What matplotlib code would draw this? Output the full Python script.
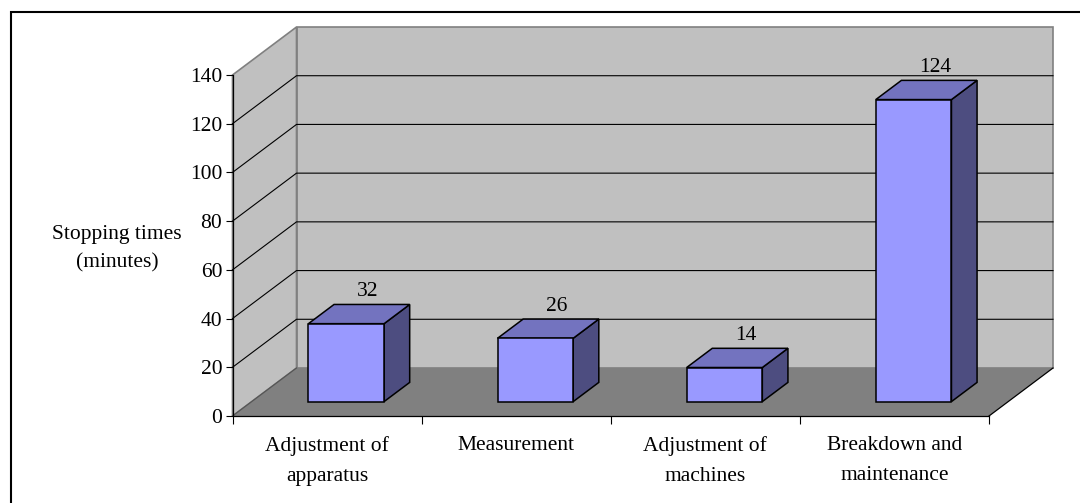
import matplotlib.pyplot as plt
from matplotlib.patches import Polygon, Rectangle

plt.rcParams['font.family'] = ['Liberation Serif', 'DejaVu Serif']

categories = ['Adjustment of\napparatus', 'Measurement', 'Adjustment of\nmachines',
              'Breakdown and\nmaintenance']
stop_minutes = [32, 26, 14, 124]
y_ticks = [0, 20, 40, 60, 80, 100, 120, 140]

# colours of the 3D column chart
wall_col = '#c0c0c0'
floor_col = '#808080'
edge_gray = '#808080'
front_col = '#9999ff'
top_col = '#7373bf'
side_col = '#4d4d80'

fig = plt.figure(figsize=(10.8, 5.03), dpi=100)
ax = fig.add_axes([232.5 / 1080, 87 / 503, 756.5 / 1080, 341 / 503])
ax.set_xlim(-0.5, 3.5)
ax.set_ylim(0, 140)
ax.patch.set_visible(False)

# oblique depth of the plot box, in data units
px_x = 756.5 / 4      # pixels per category
px_y = 341 / 140      # pixels per minute
DX = 64 / px_x
DY = 48 / px_y


def proj(x, y, d):
    return (x + d * DX, y + d * DY)


x0, x1 = -0.5, 3.5
ytop = y_ticks[-1]

# back wall, side wall and floor
ax.add_patch(Polygon([proj(x0, 0, 1), proj(x1, 0, 1), proj(x1, ytop, 1), proj(x0, ytop, 1)],
                     fc=wall_col, ec=edge_gray, lw=1.2, clip_on=False, zorder=0))
ax.add_patch(Polygon([proj(x0, 0, 0), proj(x0, 0, 1), proj(x0, ytop, 1), proj(x0, ytop, 0)],
                     fc=wall_col, ec=edge_gray, lw=1.2, clip_on=False, zorder=0))
ax.add_patch(Polygon([proj(x0, 0, 0), proj(x1, 0, 0), proj(x1, 0, 1), proj(x0, 0, 1)],
                     fc=floor_col, ec='none', clip_on=False, zorder=0.5))
p, q = proj(x1, 0, 0), proj(x1, 0, 1)
ax.plot([p[0], q[0]], [p[1], q[1]], color='black', lw=0.9, clip_on=False, zorder=1)
p, q = proj(x0, 0, 0), proj(x0, 0, 1)
ax.plot([p[0], q[0]], [p[1], q[1]], color='#555555', lw=0.9, clip_on=False, zorder=1)

# gridlines across side wall and back wall
for v in y_ticks[1:-1]:
    a, b, c = proj(x0, v, 0), proj(x0, v, 1), proj(x1, v, 1)
    ax.plot([a[0], b[0], c[0]], [a[1], b[1], c[1]], color='black', lw=0.8,
            clip_on=False, zorder=1)

# columns
w = 0.2
d0, d1 = 0.3, 0.7
for i, v in enumerate(stop_minutes):
    fl, fr = i - w, i + w
    front = [proj(fl, 0, d0), proj(fr, 0, d0), proj(fr, v, d0), proj(fl, v, d0)]
    top = [proj(fl, v, d0), proj(fr, v, d0), proj(fr, v, d1), proj(fl, v, d1)]
    side = [proj(fr, 0, d0), proj(fr, 0, d1), proj(fr, v, d1), proj(fr, v, d0)]
    for pts, col in [(side, side_col), (top, top_col), (front, front_col)]:
        ax.add_patch(Polygon(pts, fc=col, ec='black', lw=1.1, joinstyle='miter',
                             clip_on=False, zorder=3))
    lx, ly = proj(i, v, d1)
    ax.annotate(str(v), (lx - 0.07 * DX, ly), xytext=(0, 6), textcoords='offset points',
                ha='center', va='baseline', fontsize=15.5, zorder=4, annotation_clip=False)

# axes
for s in ['top', 'right']:
    ax.spines[s].set_visible(False)
for s in ['left', 'bottom']:
    ax.spines[s].set_linewidth(0.9)
    ax.spines[s].set_zorder(2)
ax.set_yticks(y_ticks)
ax.tick_params(axis='y', direction='out', length=5, width=0.8, pad=2.4, labelsize=15.5)
ax.set_xticks(range(len(categories)))
ax.set_xticklabels(categories, linespacing=1.8)
ax.set_xticks([x0 + k for k in range(len(categories) + 1)], minor=True)
ax.tick_params(axis='x', which='major', length=0, pad=14.5, labelsize=15.5)
ax.tick_params(axis='x', which='minor', direction='out', length=6, width=0.8)

fig.text(117 / 1080, 1 - 248.5 / 503, 'Stopping times\n(minutes)', ha='center', va='center',
         fontsize=15.5, linespacing=1.65)

# outer frame
frame_top = 1 - 11.5 / 503
fig.add_artist(Rectangle((10.5 / 1080, -0.2), 1.2, frame_top + 0.2, fill=False,
                         ec='black', lw=1.5, transform=fig.transFigure))

fig.savefig('out.png', dpi=100)
